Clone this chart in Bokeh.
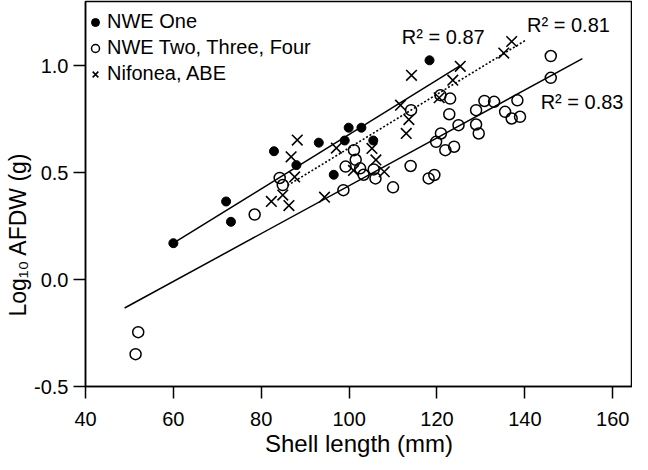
from bokeh.plotting import figure
from bokeh.models import (ColumnDataSource, Legend, LegendItem, FixedTicker, Range1d,
                          PrintfTickFormatter, Title)
from bokeh.embed import file_html
from bokeh.resources import INLINE
from bokeh.core.properties import value

FONT = "Liberation Sans"

# ---- data ----
x_ticks = [40, 60, 80, 100, 120, 140, 160]
y_ticks = [-0.5, 0, 0.5, 1]

# NWE One (filled circles)
one_len = [60.0, 72.0, 73.1, 82.9, 88.0, 93.1, 96.5, 99.0, 99.9, 102.8, 105.5, 118.3]
one_afdw = [0.17, 0.365, 0.27, 0.60, 0.535, 0.64, 0.49, 0.65, 0.71, 0.71, 0.65, 1.025]

# NWE Two, Three, Four (open circles)
two_len = [51.4, 52.0, 78.5, 84.2, 84.9, 98.7, 99.2, 101.1, 101.5, 102.5, 103.3,
           105.6, 106.0, 110.0, 114.0, 118.1, 119.4, 114.1, 120.8, 123.0, 122.8,
           124.9, 128.9, 130.8, 133.0, 138.3, 135.5, 137.0, 138.9, 128.9, 129.5,
           120.9, 119.8, 121.9, 123.9, 145.9, 145.9]
two_afdw = [-0.349, -0.246, 0.304, 0.475, 0.442, 0.418, 0.528, 0.605, 0.56, 0.52, 0.49,
            0.515, 0.473, 0.431, 0.531, 0.473, 0.489, 0.792, 0.862, 0.846, 0.773,
            0.722, 0.792, 0.835, 0.831, 0.838, 0.784, 0.753, 0.761, 0.725, 0.683,
            0.683, 0.644, 0.605, 0.621, 1.045, 0.943]

# Nifonea, ABE (crosses)
nif_len = [82.3, 84.9, 86.3, 87.6, 86.8, 88.2, 94.4, 97.1, 101.0, 105.2, 106.1,
           108.0, 111.7, 113.0, 113.6, 114.2, 120.5, 123.6, 125.3, 135.2, 137.0]
nif_afdw = [0.365, 0.395, 0.346, 0.48, 0.574, 0.652, 0.385, 0.615, 0.51, 0.613, 0.559,
            0.504, 0.815, 0.683, 0.748, 0.955, 0.85, 0.932, 0.997, 1.059, 1.113]

# regression lines (end points)
fit_one_x = [60.0, 125.3]
fit_one_y = [0.17, 1.0]
fit_nif_x = [86.0, 140.1]
fit_nif_y = [0.44, 1.118]
fit_two_x = [48.9, 153.1]
fit_two_y = [-0.133, 1.033]

r2_text = ["R\u00b2 = 0.87", "R\u00b2 = 0.81", "R\u00b2 = 0.83"]
r2_x = [112.0, 140.5, 143.6]
r2_y = [1.134, 1.188, 0.831]

# ---- figure ----
p = figure(width=632, height=462, x_range=Range1d(40, 164.5), y_range=Range1d(-0.5, 1.3),
           output_backend="svg", toolbar_location=None, title=None,
           min_border_left=85, min_border_right=0, min_border_top=1, min_border_bottom=76)
p.xgrid.visible = False
p.ygrid.visible = False
p.outline_line_color = "black"
p.outline_line_width = 1.5
p.background_fill_color = "white"
p.border_fill_color = "white"

for ax in (p.xaxis[0], p.yaxis[0]):
    ax.axis_line_width = 1.5
    ax.axis_line_color = "black"
    ax.major_tick_line_width = 1.5
    ax.major_tick_line_color = "black"
    ax.major_tick_out = 12
    ax.major_tick_in = 0
    ax.minor_tick_out = 0
    ax.minor_tick_in = 0
    ax.major_label_text_font = FONT
    ax.major_label_text_font_size = "20px"
    ax.major_label_text_color = "black"

p.xaxis.ticker = FixedTicker(ticks=x_ticks)
p.yaxis.ticker = FixedTicker(ticks=y_ticks)
p.yaxis.formatter = PrintfTickFormatter(format="%.1f")
p.xaxis.major_label_standoff = 13
p.yaxis.major_label_standoff = 5

# axis titles as side-panel titles
xt = Title(text="Shell length (mm)", align="center", vertical_align="top", standoff=3,
           text_font=FONT, text_font_size="24px", text_font_style="normal",
           text_color="black")
p.add_layout(xt, "below")
yt = Title(text="Log\u2081\u2080 AFDW (g)", align="left", offset=70, vertical_align="middle",
           standoff=0, text_font=FONT, text_font_size="23px", text_font_style="normal",
           text_color="black")
p.add_layout(yt, "left")

# regression lines
p.line(fit_two_x, fit_two_y, line_color="black", line_width=1.5)
p.line(fit_one_x, fit_one_y, line_color="black", line_width=1.5)
p.line(fit_nif_x, fit_nif_y, line_color="black", line_width=1.6, line_dash="2 2")

r_two = p.scatter(two_len, two_afdw, marker="circle", size=11, fill_color=None,
                  line_color="black", line_width=1.5)
r_nif = p.scatter(nif_len, nif_afdw, marker="x", size=15, line_color="black", line_width=1.6)
r_one = p.scatter(one_len, one_afdw, marker="circle", size=9, fill_color="black",
                  line_color="black", line_width=1)

src_r2 = ColumnDataSource(dict(x=r2_x, y=r2_y, text=r2_text))
p.text(x="x", y="y", text="text", source=src_r2, text_font=value(FONT),
       text_font_size="20px", text_baseline="middle", text_align="left", text_color="black")

legend = Legend(items=[LegendItem(label="NWE One", renderers=[r_one]),
                       LegendItem(label="NWE Two, Three, Four", renderers=[r_two]),
                       LegendItem(label="Nifonea, ABE", renderers=[r_nif])],
                location=(0, 301))
legend.border_line_color = None
legend.background_fill_alpha = 0
legend.glyph_width = 20
legend.glyph_height = 22
legend.label_height = 22
legend.label_standoff = 2
legend.padding = 5
legend.spacing = 3
legend.margin = 0
legend.label_text_font = FONT
legend.label_text_font_size = "20px"
legend.label_text_color = "black"
p.add_layout(legend)

open("out.html", "w").write(file_html(p, INLINE))
